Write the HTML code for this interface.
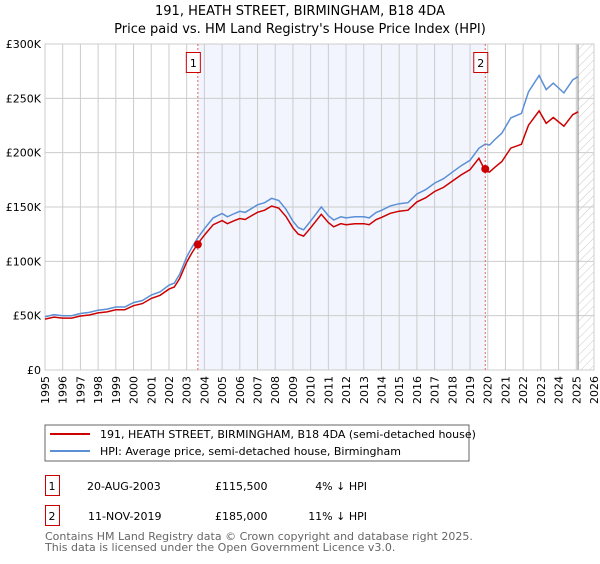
<!DOCTYPE html>
<html><head><meta charset="utf-8"><style>
body{margin:0;background:#fff;font-family:"DejaVu Sans","Liberation Sans",sans-serif;}
svg text{font-family:"DejaVu Sans","Liberation Sans",sans-serif;}
</style></head><body>
<svg id="chart" width="600" height="560" viewBox="0 0 600 560">
<defs><pattern id="hatch" width="6" height="6" patternUnits="userSpaceOnUse" patternTransform="rotate(45)"><line x1="0" y1="0" x2="0" y2="6" stroke="#bbb" stroke-width="0.8"/></pattern></defs>
<text x="300" y="15" text-anchor="middle" font-size="13" fill="#000">191, HEATH STREET, BIRMINGHAM, B18 4DA</text>
<text x="300" y="33" text-anchor="middle" font-size="13" fill="#000">Price paid vs. HM Land Registry's House Price Index (HPI)</text>
<g id="plot"></g>
<rect x="45" y="425" width="424" height="36" fill="#fff" stroke="#666"/>
<line x1="50" y1="434" x2="90" y2="434" stroke="#cc0000" stroke-width="2"/>
<text x="100" y="438" font-size="11">191, HEATH STREET, BIRMINGHAM, B18 4DA (semi-detached house)</text>
<line x1="50" y1="451" x2="90" y2="451" stroke="#5b8fd6" stroke-width="2"/>
<text x="100" y="455" font-size="11">HPI: Average price, semi-detached house, Birmingham</text>
<g>
<rect x="45.5" y="475.5" width="14" height="20" fill="#fff" stroke="#cc0000"/>
<text x="52" y="490" text-anchor="middle" font-size="11">1</text>
<text x="87" y="490" font-size="11">20-AUG-2003</text>
<text x="215" y="490" font-size="11">£115,500</text>
<text x="367" y="490" text-anchor="end" font-size="11">4% ↓ HPI</text>
</g>
<g>
<rect x="45.5" y="505.5" width="14" height="20" fill="#fff" stroke="#cc0000"/>
<text x="52" y="520" text-anchor="middle" font-size="11">2</text>
<text x="88" y="520" font-size="11">11-NOV-2019</text>
<text x="215" y="520" font-size="11">£185,000</text>
<text x="367" y="520" text-anchor="end" font-size="11">11% ↓ HPI</text>
</g>
<text x="45" y="540" font-size="11" fill="#666">Contains HM Land Registry data © Crown copyright and database right 2025.</text>
<text x="45" y="551" font-size="11" fill="#666">This data is licensed under the Open Government Licence v3.0.</text>
</svg>
<script>
const hpiYears=[1995,1995.5,1996,1996.5,1997,1997.5,1998,1998.5,1999,1999.5,2000,2000.5,2001,2001.5,2002,2002.3,2002.6,2003,2003.3,2003.6,2004,2004.5,2005,2005.3,2005.7,2006,2006.3,2006.6,2007,2007.4,2007.8,2008.2,2008.6,2009,2009.3,2009.6,2010,2010.6,2011,2011.3,2011.7,2012,2012.5,2013,2013.3,2013.7,2014,2014.5,2015,2015.5,2016,2016.5,2017,2017.5,2018,2018.5,2019,2019.5,2019.86,2020.1,2020.4,2020.8,2021.3,2021.9,2022.3,2022.9,2023.3,2023.7,2024.3,2024.8,2025.1];
const hpiValues=[49,51,50,50,52,53,55,56,58,58,62,64,69,72,78,80,88,104,113,121,130,140,144,141,144,146,145,148,152,154,158,156,148,137,131,129,137,150,142,138,141,140,141,141,140,145,147,151,153,154,162,166,172,176,182,188,193,204,208,207,212,218,232,236,256,271,258,264,255,267,270];
const sales=[{year:2003.63,price:115.5,label:"1"},{year:2019.86,price:185,label:"2"}];
const priceRatio=[0.955,0.88];
const yTicks=[0,50,100,150,200,250,300];
const xTicks=[1995,1996,1997,1998,1999,2000,2001,2002,2003,2004,2005,2006,2007,2008,2009,2010,2011,2012,2013,2014,2015,2016,2017,2018,2019,2020,2021,2022,2023,2024,2025,2026];

const L=45,R=594,T=44,B=370,x0=1995,x1=2026,yMax=300;
const X=v=>L+(v-x0)/(x1-x0)*(R-L);
const Y=v=>B-v/yMax*(B-T);
const NS="http://www.w3.org/2000/svg";
const g=document.getElementById('plot');
function mk(tag,attrs,parent){const e=document.createElementNS(NS,tag);for(const k in attrs)e.setAttribute(k,attrs[k]);(parent||g).appendChild(e);return e;}

let e=mk('rect',{x:L,y:T,width:R-L,height:B-T,fill:'#fff'});


e=mk('rect',{x:X(sales[0].year),y:T,width:X(sales[1].year)-X(sales[0].year),height:B-T,fill:'#f2f5fd'});


e=mk('rect',{x:X(2025.1),y:T,width:R-X(2025.1),height:B-T,fill:'url(#hatch)'});


xTicks.forEach(t=>{
  const l=mk('line',{x1:X(t),x2:X(t),y1:T,y2:B,stroke:'#ccc','stroke-width':1});
  
  
  const tx=mk('text',{x:X(t)+4,y:B+6,'font-size':11,transform:`rotate(-90 ${X(t)+4} ${B+6})`,'text-anchor':'end'});
  tx.textContent=t;
  
  
});
yTicks.forEach(t=>{
  const l=mk('line',{x1:L,x2:R,y1:Y(t),y2:Y(t),stroke:'#ccc','stroke-width':1});
  
  
  const tx=mk('text',{x:L-4,y:Y(t)+4,'font-size':11,'text-anchor':'end'});
  tx.textContent=t===0?'£0':'£'+t+'K';
  
  
});
e=mk('line',{x1:X(2025.1),x2:X(2025.1),y1:T,y2:B,stroke:'#999','stroke-width':1.2});


e=mk('rect',{x:L,y:T,width:R-L,height:B-T,fill:'none',stroke:'#ccc'});



const hp=hpiYears.map((yr,i)=>X(yr).toFixed(1)+','+Y(hpiValues[i]).toFixed(1)).join(' ');
const rp=hpiYears.map((yr,i)=>{const r=yr<sales[1].year-0.01?priceRatio[0]:priceRatio[1];return X(yr).toFixed(1)+','+Y(hpiValues[i]*r).toFixed(1);}).join(' ');
e=mk('polyline',{points:hp,fill:'none',stroke:'#5b8fd6','stroke-width':1.5});


e=mk('polyline',{points:rp,fill:'none',stroke:'#cc0000','stroke-width':1.5});


sales.forEach(s=>{
  const v=mk('line',{x1:X(s.year),x2:X(s.year),y1:T,y2:B,stroke:'#e06666','stroke-dasharray':'2,2','stroke-width':1});
  
  
  const c=mk('circle',{cx:X(s.year),cy:Y(s.price),r:4,fill:'#cc0000'});
  
  
  const b=mk('rect',{x:X(s.year)-11.5,y:52.5,width:14,height:20,fill:'#fff',stroke:'#cc0000'});
  
  
  const t=mk('text',{x:X(s.year)-4.5,y:67,'font-size':11,'text-anchor':'middle'});
  t.textContent=s.label;
  
  
});
</script>
</body></html>
